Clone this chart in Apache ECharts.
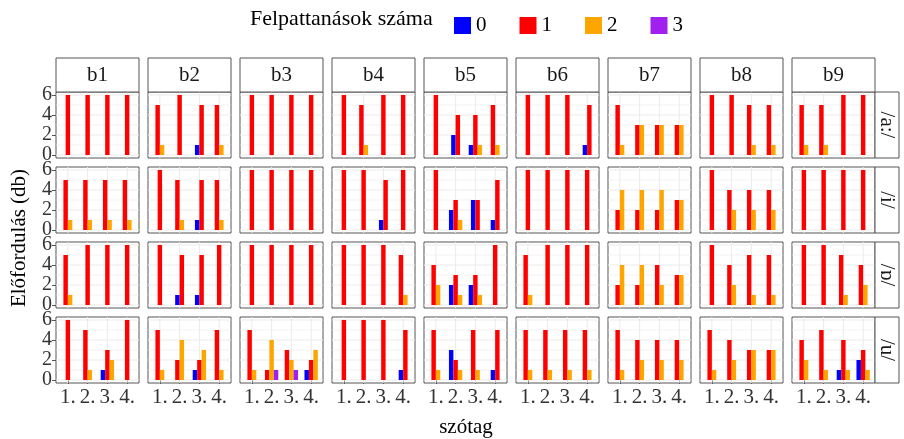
<!DOCTYPE html>
<html>
<head>
<meta charset="utf-8">
<script src="https://cdn.jsdelivr.net/npm/echarts@6/dist/echarts.min.js"></script>
<style>
  html, body { margin: 0; padding: 0; background: #ffffff; }
  #chart { width: 904px; height: 439px; }
</style>
</head>
<body>
<div id="chart"></div>
<script>
// Facet columns (speakers), facet rows (vowels), x categories (syllable position)
const speakers = ['b1', 'b2', 'b3', 'b4', 'b5', 'b6', 'b7', 'b8', 'b9'];
const vowels = ['/a:/', '/i/', '/ɒ/', '/u/'];
const syllables = ['1.', '2.', '3.', '4.'];
const burstLevels = ['0', '1', '2', '3'];
const yTicks = [0, 2, 4, 6];

// Occurrences per speaker, per syllable: [bursts=0, bursts=1, bursts=2, bursts=3]
const countsA = [
  [[0,6,0,0],[0,6,0,0],[0,6,0,0],[0,6,0,0]],
  [[0,5,1,0],[0,6,0,0],[1,5,0,0],[0,5,1,0]],
  [[0,6,0,0],[0,6,0,0],[0,6,0,0],[0,6,0,0]],
  [[0,6,0,0],[0,5,1,0],[0,6,0,0],[0,6,0,0]],
  [[0,6,0,0],[2,4,0,0],[1,4,1,0],[0,5,1,0]],
  [[0,6,0,0],[0,6,0,0],[0,6,0,0],[1,5,0,0]],
  [[0,5,1,0],[0,3,3,0],[0,3,3,0],[0,3,3,0]],
  [[0,6,0,0],[0,6,0,0],[0,5,1,0],[0,5,1,0]],
  [[0,5,1,0],[0,5,1,0],[0,6,0,0],[0,6,0,0]]
];
const countsI = [
  [[0,5,1,0],[0,5,1,0],[0,5,1,0],[0,5,1,0]],
  [[0,6,0,0],[0,5,1,0],[1,5,0,0],[0,5,1,0]],
  [[0,6,0,0],[0,6,0,0],[0,6,0,0],[0,6,0,0]],
  [[0,6,0,0],[0,6,0,0],[1,5,0,0],[0,6,0,0]],
  [[0,6,0,0],[2,3,1,0],[3,3,0,0],[1,5,0,0]],
  [[0,6,0,0],[0,6,0,0],[0,6,0,0],[0,6,0,0]],
  [[0,2,4,0],[0,2,4,0],[0,2,4,0],[0,3,3,0]],
  [[0,6,0,0],[0,4,2,0],[0,4,2,0],[0,4,2,0]],
  [[0,6,0,0],[0,6,0,0],[0,6,0,0],[0,6,0,0]]
];
const countsO = [
  [[0,5,1,0],[0,6,0,0],[0,6,0,0],[0,6,0,0]],
  [[0,6,0,0],[1,5,0,0],[1,5,0,0],[0,6,0,0]],
  [[0,6,0,0],[0,6,0,0],[0,6,0,0],[0,6,0,0]],
  [[0,6,0,0],[0,6,0,0],[0,6,0,0],[0,5,1,0]],
  [[0,4,2,0],[2,3,1,0],[2,3,1,0],[0,6,0,0]],
  [[0,5,1,0],[0,6,0,0],[0,6,0,0],[0,6,0,0]],
  [[0,2,4,0],[0,2,4,0],[0,4,2,0],[0,3,3,0]],
  [[0,6,0,0],[0,4,2,0],[0,5,1,0],[0,5,1,0]],
  [[0,6,0,0],[0,6,0,0],[0,5,1,0],[0,4,2,0]]
];
const countsU = [
  [[0,6,0,0],[0,5,1,0],[1,3,2,0],[0,6,0,0]],
  [[0,5,1,0],[0,2,4,0],[1,2,3,0],[0,5,1,0]],
  [[0,5,1,0],[0,1,4,1],[0,3,2,1],[1,2,3,0]],
  [[0,6,0,0],[0,6,0,0],[0,6,0,0],[1,5,0,0]],
  [[0,5,1,0],[3,2,1,0],[0,5,1,0],[1,5,0,0]],
  [[0,5,1,0],[0,5,1,0],[0,5,1,0],[0,5,1,0]],
  [[0,5,1,0],[0,4,2,0],[0,4,2,0],[0,4,2,0]],
  [[0,5,1,0],[0,4,2,0],[0,3,3,0],[0,3,3,0]],
  [[0,4,2,0],[0,5,1,0],[1,4,1,0],[2,3,1,0]]
];
const countsByVowel = [countsA, countsI, countsO, countsU];

// ---- styling ----
const FONT = '"Liberation Serif", "DejaVu Serif", serif';
const levelColors = ['#0000ff', '#ff0000', '#ffa500', '#a020f0'];
const GRID_COLOR = '#ebebeb';
const BORDER_COLOR = '#555555';
const STRIP_FILL = '#ffffff';
const BAR_W = 0.225;          // bar width in x units (dodged)

const layout = { left0: 56, top0: 92, w: 83, h: 66, dx: 92, dy: 75, stripH: 34, rStripW: 24 };

const chart = echarts.init(document.getElementById('chart'), null, { renderer: 'canvas' });

function renderBar(params, api) {
  const x = api.value(0), v = api.value(1), slot = api.value(2), n = api.value(3);
  const x0 = x - BAR_W * n / 2 + slot * BAR_W;
  const p0 = api.coord([x0, 0]);
  const p1 = api.coord([x0 + BAR_W, v]);
  return {
    type: 'rect',
    shape: { x: p0[0], y: p1[1], width: p1[0] - p0[0], height: p0[1] - p1[1] },
    style: { fill: api.visual('color') }
  };
}

function renderGridLine(params, api) {
  const kind = api.value(0), v = api.value(1);
  const cs = params.coordSys;
  if (kind === 0) {
    const y = api.coord([1, v])[1];
    return { type: 'line', shape: { x1: cs.x, y1: y, x2: cs.x + cs.width, y2: y },
             style: { stroke: GRID_COLOR, lineWidth: v % 2 === 0 ? 1 : 0.6 } };
  }
  const x = api.coord([v, 0])[0];
  return { type: 'line', shape: { x1: x, y1: cs.y, x2: x, y2: cs.y + cs.height },
           style: { stroke: GRID_COLOR, lineWidth: 1 } };
}

const grids = [], xAxes = [], yAxes = [], series = [], graphics = [];
const hLevels = [0, 1, 2, 3, 4, 5, 6];
const vLevels = [1, 2, 3, 4];

vowels.forEach((vowel, r) => {
  speakers.forEach((spk, c) => {
    const gi = r * speakers.length + c;
    const left = layout.left0 + c * layout.dx;
    const top = layout.top0 + r * layout.dy;
    grids.push({ left, top, width: layout.w, height: layout.h, show: true,
                 backgroundColor: '#ffffff', borderColor: BORDER_COLOR, borderWidth: 1, containLabel: false });
    const bottomRow = r === vowels.length - 1;
    const leftCol = c === 0;
    xAxes.push({
      gridIndex: gi, type: 'value', min: 0.4, max: 4.6,
      splitLine: { show: false }, axisLine: { show: false },
      axisTick: { show: bottomRow, customValues: vLevels, length: 4, lineStyle: { color: BORDER_COLOR } },
      axisLabel: { show: bottomRow, customValues: vLevels, interval: 0, formatter: v => syllables[v - 1],
                   fontFamily: FONT, fontSize: 21, color: '#333', margin: 4, hideOverlap: false }
    });
    yAxes.push({
      gridIndex: gi, type: 'value', min: -0.3, max: 6.3,
      splitLine: { show: false }, axisLine: { show: false },
      axisTick: { show: leftCol, customValues: yTicks, length: 4, lineStyle: { color: BORDER_COLOR } },
      axisLabel: { show: leftCol, customValues: yTicks, interval: 0, fontFamily: FONT, fontSize: 20, lineHeight: 12,
                   color: '#333', margin: 4, hideOverlap: false, showMinLabel: true, showMaxLabel: true }
    });

    // panel gridlines
    series.push({
      type: 'custom', xAxisIndex: gi, yAxisIndex: gi, silent: true, z: 1,
      renderItem: renderGridLine,
      data: hLevels.map(v => [0, v]).concat(vLevels.map(v => [1, v]))
    });

    // dodged bars, one series per burst level
    const counts = countsByVowel[r][c];
    burstLevels.forEach((lvl, k) => {
      const data = [];
      counts.forEach((row, s) => {
        if (!row[k]) return;
        const present = row.map((v, j) => v > 0 ? j : -1).filter(j => j >= 0);
        data.push([s + 1, row[k], present.indexOf(k), present.length]);
      });
      series.push({
        type: 'custom', name: lvl, xAxisIndex: gi, yAxisIndex: gi, z: 2,
        itemStyle: { color: levelColors[k] },
        renderItem: renderBar, encode: { x: 0, y: 1 }, data
      });
    });

    // top strip
    if (r === 0) {
      graphics.push({ type: 'rect', shape: { x: left, y: top - layout.stripH, width: layout.w, height: layout.stripH },
                      style: { fill: STRIP_FILL, stroke: BORDER_COLOR, lineWidth: 1 }, z: 10 });
      graphics.push({ type: 'text', x: left + layout.w / 2, y: top - layout.stripH / 2, z: 11,
                      style: { text: spk, font: '21px ' + FONT, fill: '#1a1a1a', align: 'center', verticalAlign: 'middle' } });
    }
  });
  // right strip
  const top = layout.top0 + r * layout.dy;
  const rx = layout.left0 + 8 * layout.dx + layout.w;
  graphics.push({ type: 'rect', shape: { x: rx, y: top, width: layout.rStripW, height: layout.h },
                  style: { fill: STRIP_FILL, stroke: BORDER_COLOR, lineWidth: 1 }, z: 10 });
  graphics.push({ type: 'text', x: rx + layout.rStripW / 2, y: top + layout.h / 2, rotation: -Math.PI / 2, z: 11,
                  style: { text: vowel, font: '21px ' + FONT, fill: '#1a1a1a', align: 'center', verticalAlign: 'middle' } });
});

// axis titles and legend title
graphics.push({ type: 'text', x: 19, y: 238, rotation: Math.PI / 2,
                style: { text: 'Előfordulás (db)', font: '21px ' + FONT, fill: '#000', align: 'center', verticalAlign: 'middle' } });
graphics.push({ type: 'text', x: 466, y: 427,
                style: { text: 'szótag', font: '21px ' + FONT, fill: '#000', align: 'center', verticalAlign: 'middle' } });
graphics.push({ type: 'text', x: 250, y: 19,
                style: { text: 'Felpattanások száma', font: '22px ' + FONT, fill: '#000', align: 'left', verticalAlign: 'middle' } });

chart.setOption({
  animation: false,
  backgroundColor: '#ffffff',
  legend: {
    data: burstLevels, left: 449, top: 10, icon: 'rect', itemWidth: 17, itemHeight: 17, itemGap: 33,
    selectedMode: false,
    textStyle: { fontFamily: FONT, fontSize: 21, color: '#000' }
  },
  grid: grids, xAxis: xAxes, yAxis: yAxes, series, graphic: graphics
});
</script>
</body>
</html>
